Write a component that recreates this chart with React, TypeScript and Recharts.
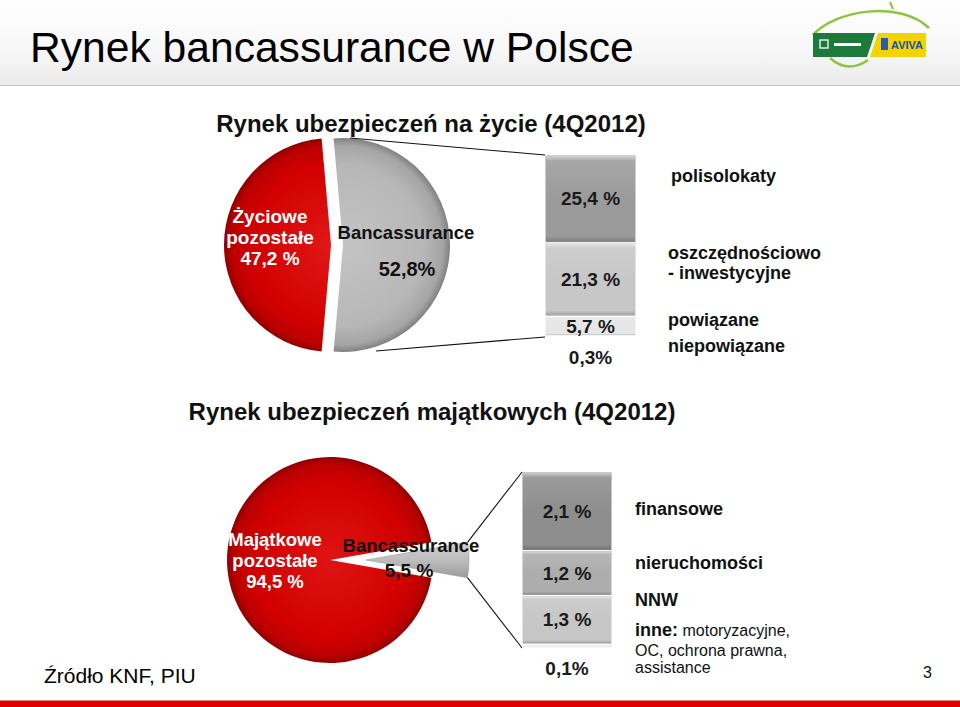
import React from "react";
import { PieChart, Pie, Cell, BarChart, Bar, XAxis, YAxis, LabelList } from "recharts";

const W = 960;
const H = 707;
const FONT = '"Liberation Sans", Arial, Helvetica, sans-serif';

// Rynek ubezpieczeń na życie (4Q2012)
const lifeShareNames = ["Życiowe pozostałe", "Bancassurance"];
const lifeShareValues = [47.2, 52.8];
const lifeBancaNames = ["polisolokaty", "oszczędnościowo - inwestycyjne", "powiązane", "niepowiązane"];
const lifeBancaValues = [25.4, 21.3, 5.7, 0.3];
const lifeBancaLabels = ["25,4 %", "21,3 %", "5,7 %", "0,3%"];

// Rynek ubezpieczeń majątkowych (4Q2012)
const propShareNames = ["Majątkowe pozostałe", "Bancassurance"];
const propShareValues = [94.5, 5.5];
const propBancaNames = ["finansowe", "nieruchomości", "NNW", "inne"];
const propBancaValues = [2.1, 1.2, 1.3, 0.1];
const propBancaLabels = ["2,1 %", "1,2 %", "1,3 %", "0,1%"];

const LIFE_BAR_COLORS = ["#9b9b9b", "#c7c7c7", "#e6e6e6", "#f3f3f3"];
const PROP_BAR_COLORS = ["#8e8e8e", "#adadad", "#c6c6c6", "#ededed"];

// layout (px on the slide)
const LIFE_PIE = { cx: 331, cy: 245, r: 107, explode: 12 };
const PROP_PIE = { cx: 330, cy: 560, r: 103, explode: 36 };
const LIFE_BAR = { x: 545, y: 155, w: 91, h: 182 };
const PROP_BAR = { x: 522, y: 472, w: 90, h: 176 };

const sum = (a: number[]) => a.reduce((s, v) => s + v, 0);

// first slice is centred on the left, the second one on the right
const startFor = (values: number[]) => 180 - (values[0] / sum(values)) * 180;

const toRows = (names: string[], values: number[]) =>
    names.map((name, i) => ({ name, value: values[i] }));

const toStackRow = (values: number[]) => {
    const row: Record<string, number | string> = { name: "bancassurance" };
    values.forEach((v, i) => (row[`s${i}`] = v));
    return row;
};

function BevelRect(props: any) {
    const { x, y, width, height, fill, gradId } = props;
    if (!height || height <= 0) return null;
    return (
        <g>
            <rect x={x} y={y} width={width} height={height} fill={fill} stroke="#ffffff" strokeWidth={1} />
            <rect x={x + 1} y={y + 1} width={Math.max(0, width - 2)} height={Math.max(0, height - 2)} fill={`url(#${gradId})`} />
        </g>
    );
}

function SegLabel(props: any) {
    const box = props.viewBox && props.viewBox.width != null ? props.viewBox : props;
    const { x, y, width, height } = box;
    const small = height < 12;
    const cy = small ? y + height + 20 : y + height / 2;
    return (
        <text
            x={x + width / 2}
            y={cy + 6.5}
            textAnchor="middle"
            fontFamily={FONT}
            fontSize={19}
            fontWeight={700}
            fill="#1a1a1a"
        >
            {props.text}
        </text>
    );
}

function StackBar({ values, labels, colors, box, gradId }: any) {
    const total = sum(values);
    const order = values.map((_: number, i: number) => i).reverse(); // first value sits on top
    return (
        <BarChart
            width={W}
            height={H}
            data={[toStackRow(values)]}
            margin={{ top: box.y, bottom: H - box.y - box.h, left: box.x, right: W - box.x - box.w }}
            barCategoryGap={0}
        >
            <defs>
                <linearGradient id={gradId} x1="0" y1="0" x2="0" y2="1">
                    <stop offset="0" stopColor="#ffffff" stopOpacity={0.55} />
                    <stop offset="0.06" stopColor="#ffffff" stopOpacity={0.12} />
                    <stop offset="0.5" stopColor="#ffffff" stopOpacity={0} />
                    <stop offset="0.93" stopColor="#000000" stopOpacity={0} />
                    <stop offset="1" stopColor="#000000" stopOpacity={0.18} />
                </linearGradient>
            </defs>
            <XAxis dataKey="name" hide />
            <YAxis hide domain={[0, total]} />
            {order.map((i: number) => (
                <Bar
                    key={i}
                    dataKey={`s${i}`}
                    stackId="a"
                    fill={colors[i]}
                    isAnimationActive={false}
                    shape={(p: any) => <BevelRect {...p} gradId={gradId} />}
                >
                    <LabelList dataKey={`s${i}`} content={(p: any) => <SegLabel {...p} text={labels[i]} />} />
                </Bar>
            ))}
        </BarChart>
    );
}

const abs: React.CSSProperties = { position: "absolute", left: 0, top: 0 };

export default function App() {
    const lifeData = toRows(lifeShareNames, lifeShareValues);
    const propData = toRows(propShareNames, propShareValues);
    const lifeStart = startFor(lifeShareValues);
    const propStart = startFor(propShareValues);

    // corners of the exploded property slice, for the connector lines
    const half = ((propShareValues[1] / sum(propShareValues)) * 180 * Math.PI) / 180;
    const pcx = PROP_PIE.cx + PROP_PIE.explode;
    const cornerTop = { x: pcx + PROP_PIE.r * Math.cos(half), y: PROP_PIE.cy - PROP_PIE.r * Math.sin(half) };
    const cornerBot = { x: pcx + PROP_PIE.r * Math.cos(half), y: PROP_PIE.cy + PROP_PIE.r * Math.sin(half) };

    const txt = { fontFamily: FONT } as const;

    return (
        <div style={{ ...abs, width: W, height: H, background: "#ffffff", overflow: "hidden", fontFamily: FONT }}>
            {/* pies */}
            <div style={abs}>
                <PieChart width={W} height={H} margin={{ top: 0, left: 0, right: 0, bottom: 0 }}>
                    <defs>
                        <radialGradient id="redLife" gradientUnits="userSpaceOnUse" cx={LIFE_PIE.cx} cy={LIFE_PIE.cy} r={LIFE_PIE.r}>
                            <stop offset="0" stopColor="#e01818" />
                            <stop offset="0.75" stopColor="#d20000" />
                            <stop offset="0.93" stopColor="#bb0000" />
                            <stop offset="1" stopColor="#900000" />
                        </radialGradient>
                        <radialGradient id="greyLife" gradientUnits="userSpaceOnUse" cx={LIFE_PIE.cx + LIFE_PIE.explode} cy={LIFE_PIE.cy} r={LIFE_PIE.r}>
                            <stop offset="0" stopColor="#c4c4c4" />
                            <stop offset="0.75" stopColor="#b7b7b7" />
                            <stop offset="0.93" stopColor="#a5a5a5" />
                            <stop offset="1" stopColor="#808080" />
                        </radialGradient>
                        <radialGradient id="redProp" gradientUnits="userSpaceOnUse" cx={PROP_PIE.cx} cy={PROP_PIE.cy} r={PROP_PIE.r}>
                            <stop offset="0" stopColor="#de1414" />
                            <stop offset="0.75" stopColor="#d20000" />
                            <stop offset="0.93" stopColor="#bb0000" />
                            <stop offset="1" stopColor="#900000" />
                        </radialGradient>
                        <linearGradient id="greyProp" gradientUnits="userSpaceOnUse" x1="0" y1={PROP_PIE.cy - 24} x2="0" y2={PROP_PIE.cy + 24}>
                            <stop offset="0" stopColor="#d6d6d6" />
                            <stop offset="0.5" stopColor="#bdbdbd" />
                            <stop offset="1" stopColor="#8f8f8f" />
                        </linearGradient>
                    </defs>
                    <Pie
                        data={lifeData}
                        dataKey="value"
                        nameKey="name"
                        cx={LIFE_PIE.cx}
                        cy={LIFE_PIE.cy}
                        outerRadius={LIFE_PIE.r}
                        startAngle={lifeStart}
                        endAngle={lifeStart + 360}
                        stroke="none"
                        isAnimationActive={false}
                    >
                        <Cell fill="url(#redLife)" stroke="none" />
                        <Cell fill="none" stroke="none" />
                    </Pie>
                    <Pie
                        data={lifeData}
                        dataKey="value"
                        nameKey="name"
                        cx={LIFE_PIE.cx + LIFE_PIE.explode}
                        cy={LIFE_PIE.cy}
                        outerRadius={LIFE_PIE.r}
                        startAngle={lifeStart}
                        endAngle={lifeStart + 360}
                        stroke="none"
                        isAnimationActive={false}
                    >
                        <Cell fill="none" stroke="none" />
                        <Cell fill="url(#greyLife)" stroke="none" />
                    </Pie>
                    <Pie
                        data={propData}
                        dataKey="value"
                        nameKey="name"
                        cx={PROP_PIE.cx}
                        cy={PROP_PIE.cy}
                        outerRadius={PROP_PIE.r}
                        startAngle={propStart}
                        endAngle={propStart + 360}
                        stroke="none"
                        isAnimationActive={false}
                    >
                        <Cell fill="url(#redProp)" stroke="none" />
                        <Cell fill="none" stroke="none" />
                    </Pie>
                    <Pie
                        data={propData}
                        dataKey="value"
                        nameKey="name"
                        cx={PROP_PIE.cx + PROP_PIE.explode}
                        cy={PROP_PIE.cy}
                        outerRadius={PROP_PIE.r}
                        startAngle={propStart}
                        endAngle={propStart + 360}
                        stroke="none"
                        isAnimationActive={false}
                    >
                        <Cell fill="none" stroke="none" />
                        <Cell fill="url(#greyProp)" stroke="#9a9a9a" strokeWidth={0.6} />
                    </Pie>
                </PieChart>
            </div>

            {/* stacked breakdown bars */}
            <div style={abs}>
                <StackBar values={lifeBancaValues} labels={lifeBancaLabels} colors={LIFE_BAR_COLORS} box={LIFE_BAR} gradId="bevelLife" />
            </div>
            <div style={abs}>
                <StackBar values={propBancaValues} labels={propBancaLabels} colors={PROP_BAR_COLORS} box={PROP_BAR} gradId="bevelProp" />
            </div>

            {/* slide furniture, labels, connectors */}
            <svg width={W} height={H} style={{ ...abs, pointerEvents: "none" }}>
                <defs>
                    <linearGradient id="header" x1="0" y1="0" x2="0" y2="1">
                        <stop offset="0" stopColor="#ffffff" />
                        <stop offset="0.6" stopColor="#f7f7f7" />
                        <stop offset="1" stopColor="#ebebeb" />
                    </linearGradient>
                </defs>
                <rect x={0} y={0} width={W} height={85} fill="url(#header)" />
                <line x1={0} y1={85.5} x2={W} y2={85.5} stroke="#c4c4c4" strokeWidth={1.2} />
                <text x={30} y={62} fontSize={42.6} fill="#000" {...txt}>Rynek bancassurance w Polsce</text>

                {/* logo */}
                <path d="M813 35 C 835 10, 900 0, 929 28" stroke="#8cc63e" strokeWidth={2.5} fill="none" />
                <path d="M890 2 L 893 9" stroke="#8cc63e" strokeWidth={2} />
                <polygon points="813,33 875,33 867,57 813,57" fill="#1d7a3c" />
                <polygon points="878,33 926,33 926,57 870,57" fill="#f3d400" />
                <rect x={820} y={40} width={8} height={8} fill="none" stroke="#ffffff" strokeWidth={1.3} />
                <rect x={834} y={43} width={27} height={3} fill="#ffffff" />
                <rect x={881} y={38} width={7} height={12} fill="#2f5aa8" />
                <text x={891} y={49} fontSize={11} fontWeight={700} fill="#1f4e9e" {...txt}>AVIVA</text>
                <path d="M830 58 Q 848 74 868 60" stroke="#8cc63e" strokeWidth={2.5} fill="none" />

                {/* section titles */}
                <text x={431} y={132} textAnchor="middle" fontSize={24} fontWeight={700} fill="#111" {...txt}>
                    Rynek ubezpieczeń na życie (4Q2012)
                </text>
                <text x={432} y={420} textAnchor="middle" fontSize={24} fontWeight={700} fill="#111" {...txt}>
                    Rynek ubezpieczeń majątkowych (4Q2012)
                </text>

                {/* life pie labels */}
                <g fontFamily={FONT} fontWeight={700} textAnchor="middle">
                    <text x={270} y={223} fontSize={19} fill="#ffffff">Życiowe</text>
                    <text x={270} y={244} fontSize={19} fill="#ffffff">pozostałe</text>
                    <text x={270} y={265} fontSize={19} fill="#ffffff">47,2 %</text>
                    <text x={406} y={239} fontSize={18.5} fill="#111">Bancassurance</text>
                    <text x={407} y={276} fontSize={20} fill="#111">52,8%</text>
                </g>

                {/* property pie labels */}
                <g fontFamily={FONT} fontWeight={700} textAnchor="middle">
                    <text x={275} y={546} fontSize={18.5} fill="#ffffff">Majątkowe</text>
                    <text x={275} y={567} fontSize={18.5} fill="#ffffff">pozostałe</text>
                    <text x={275} y={588} fontSize={18.5} fill="#ffffff">94,5 %</text>
                    <text x={411} y={552} fontSize={18.5} fill="#111">Bancassurance</text>
                    <text x={409} y={577} fontSize={19} fill="#111">5,5 %</text>
                </g>

                {/* connectors */}
                <g stroke="#111" strokeWidth={1.1}>
                    <line x1={350} y1={138} x2={LIFE_BAR.x} y2={LIFE_BAR.y} />
                    <line x1={376} y1={351} x2={LIFE_BAR.x} y2={LIFE_BAR.y + LIFE_BAR.h} />
                    <line x1={cornerTop.x} y1={cornerTop.y} x2={PROP_BAR.x} y2={PROP_BAR.y} />
                    <line x1={cornerBot.x} y1={cornerBot.y} x2={PROP_BAR.x} y2={PROP_BAR.y + PROP_BAR.h} />
                </g>

                {/* life categories */}
                <g fontFamily={FONT} fontWeight={700} fontSize={18} fill="#111">
                    <text x={671} y={182}>{lifeBancaNames[0]}</text>
                    <text x={668} y={259}>oszczędnościowo</text>
                    <text x={668} y={279}>- inwestycyjne</text>
                    <text x={668} y={326}>{lifeBancaNames[2]}</text>
                    <text x={668} y={352}>{lifeBancaNames[3]}</text>
                </g>

                {/* property categories */}
                <g fontFamily={FONT} fill="#111">
                    <text x={635} y={515} fontSize={18} fontWeight={700}>{propBancaNames[0]}</text>
                    <text x={635} y={569} fontSize={18} fontWeight={700}>{propBancaNames[1]}</text>
                    <text x={635} y={606} fontSize={18} fontWeight={700}>{propBancaNames[2]}</text>
                    <text x={635} y={636} fontSize={18}>
                        <tspan fontWeight={700}>{propBancaNames[3]}:</tspan>
                        <tspan fontSize={16}> motoryzacyjne,</tspan>
                    </text>
                    <text x={635} y={656} fontSize={16}>OC, ochrona prawna,</text>
                    <text x={635} y={673} fontSize={16}>assistance</text>
                </g>

                <text x={44} y={683} fontSize={21} fill="#000" {...txt}>Źródło KNF, PIU</text>
                <text x={923} y={678} fontSize={16} fill="#111" {...txt}>3</text>

                <rect x={0} y={700} width={W} height={7} fill="#e10000" />
                <rect x={0} y={700} width={W} height={1} fill="#f08080" />
            </svg>
        </div>
    );
}
